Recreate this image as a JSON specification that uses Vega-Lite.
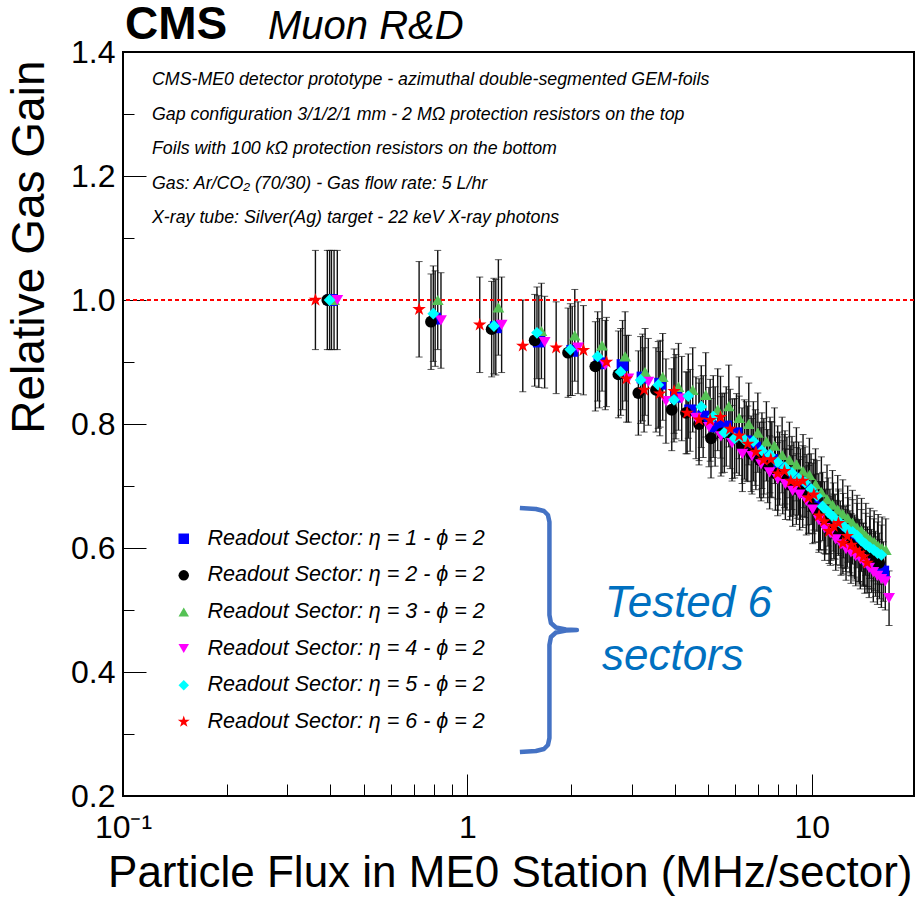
{
  "$schema": "https://vega.github.io/schema/vega-lite/v6.json",
  "width": 791,
  "height": 744,
  "autosize": {"type": "none"},
  "padding": {"left": 123, "top": 52, "right": 2, "bottom": 102},
  "background": "white",
  "config": {"font": "Liberation Sans", "view": {"stroke": "#000", "strokeWidth": 2}},
  "datasets": {
    "pts": [
      {"s":1,"x":0.403,"y":1.000,"e":0.080},{"s":1,"x":0.806,"y":0.970,"e":0.077},{"s":1,"x":1.209,"y":0.956,"e":0.077},{"s":1,"x":1.612,"y":0.933,"e":0.074},{"s":1,"x":2.015,"y":0.918,"e":0.072},
      {"s":1,"x":2.418,"y":0.898,"e":0.072},{"s":1,"x":2.821,"y":0.895,"e":0.072},{"s":1,"x":3.224,"y":0.875,"e":0.070},{"s":1,"x":3.627,"y":0.865,"e":0.070},{"s":1,"x":4.03,"y":0.844,"e":0.068},
      {"s":1,"x":4.433,"y":0.822,"e":0.066},{"s":1,"x":4.836,"y":0.812,"e":0.066},{"s":1,"x":5.239,"y":0.796,"e":0.064},{"s":1,"x":5.642,"y":0.796,"e":0.064},{"s":1,"x":6.045,"y":0.785,"e":0.064},
      {"s":1,"x":6.448,"y":0.772,"e":0.064},{"s":1,"x":6.851,"y":0.762,"e":0.061},{"s":1,"x":7.254,"y":0.748,"e":0.061},{"s":1,"x":7.657,"y":0.742,"e":0.061},{"s":1,"x":8.06,"y":0.728,"e":0.059},
      {"s":1,"x":8.463,"y":0.720,"e":0.059},{"s":1,"x":8.866,"y":0.712,"e":0.059},{"s":1,"x":9.269,"y":0.703,"e":0.057},{"s":1,"x":9.672,"y":0.694,"e":0.057},{"s":1,"x":10.075,"y":0.680,"e":0.057},
      {"s":1,"x":10.478,"y":0.665,"e":0.055},{"s":1,"x":10.881,"y":0.652,"e":0.055},{"s":1,"x":11.284,"y":0.643,"e":0.052},{"s":1,"x":11.687,"y":0.634,"e":0.052},{"s":1,"x":12.09,"y":0.624,"e":0.052},
      {"s":1,"x":12.493,"y":0.617,"e":0.050},{"s":1,"x":12.896,"y":0.610,"e":0.050},{"s":1,"x":13.299,"y":0.603,"e":0.050},{"s":1,"x":13.702,"y":0.596,"e":0.050},{"s":1,"x":14.105,"y":0.590,"e":0.050},
      {"s":1,"x":14.508,"y":0.582,"e":0.048},{"s":1,"x":14.911,"y":0.576,"e":0.048},{"s":1,"x":15.314,"y":0.570,"e":0.048},{"s":1,"x":15.717,"y":0.566,"e":0.048},{"s":1,"x":16.12,"y":0.562,"e":0.048},

      {"s":2,"x":0.392,"y":1.000,"e":0.080},{"s":2,"x":0.784,"y":0.965,"e":0.077},{"s":2,"x":1.176,"y":0.953,"e":0.077},{"s":2,"x":1.568,"y":0.935,"e":0.074},{"s":2,"x":1.96,"y":0.915,"e":0.072},
      {"s":2,"x":2.352,"y":0.893,"e":0.072},{"s":2,"x":2.744,"y":0.880,"e":0.070},{"s":2,"x":3.136,"y":0.850,"e":0.068},{"s":2,"x":3.528,"y":0.855,"e":0.068},{"s":2,"x":3.92,"y":0.823,"e":0.066},
      {"s":2,"x":4.312,"y":0.818,"e":0.066},{"s":2,"x":4.704,"y":0.800,"e":0.066},{"s":2,"x":5.096,"y":0.777,"e":0.064},{"s":2,"x":5.488,"y":0.785,"e":0.064},{"s":2,"x":5.88,"y":0.776,"e":0.064},
      {"s":2,"x":6.272,"y":0.765,"e":0.061},{"s":2,"x":6.664,"y":0.752,"e":0.061},{"s":2,"x":7.056,"y":0.742,"e":0.061},{"s":2,"x":7.448,"y":0.732,"e":0.059},{"s":2,"x":7.84,"y":0.720,"e":0.059},
      {"s":2,"x":8.232,"y":0.714,"e":0.059},{"s":2,"x":8.624,"y":0.702,"e":0.057},{"s":2,"x":9.016,"y":0.695,"e":0.057},{"s":2,"x":9.408,"y":0.690,"e":0.057},{"s":2,"x":9.8,"y":0.678,"e":0.055},
      {"s":2,"x":10.192,"y":0.664,"e":0.055},{"s":2,"x":10.584,"y":0.652,"e":0.055},{"s":2,"x":10.976,"y":0.642,"e":0.052},{"s":2,"x":11.368,"y":0.632,"e":0.052},{"s":2,"x":11.76,"y":0.625,"e":0.052},
      {"s":2,"x":12.152,"y":0.618,"e":0.050},{"s":2,"x":12.544,"y":0.612,"e":0.050},{"s":2,"x":12.936,"y":0.606,"e":0.050},{"s":2,"x":13.328,"y":0.600,"e":0.050},{"s":2,"x":13.72,"y":0.595,"e":0.050},
      {"s":2,"x":14.112,"y":0.590,"e":0.050},{"s":2,"x":14.504,"y":0.586,"e":0.048},{"s":2,"x":14.896,"y":0.582,"e":0.048},{"s":2,"x":15.288,"y":0.579,"e":0.048},{"s":2,"x":15.68,"y":0.576,"e":0.048},

      {"s":3,"x":0.41,"y":1.000,"e":0.080},{"s":3,"x":0.82,"y":1.000,"e":0.080},{"s":3,"x":1.23,"y":0.988,"e":0.077},{"s":3,"x":1.64,"y":0.950,"e":0.077},{"s":3,"x":2.05,"y":0.943,"e":0.074},
      {"s":3,"x":2.46,"y":0.927,"e":0.074},{"s":3,"x":2.87,"y":0.909,"e":0.072},{"s":3,"x":3.28,"y":0.884,"e":0.070},{"s":3,"x":3.69,"y":0.876,"e":0.070},{"s":3,"x":4.1,"y":0.860,"e":0.070},
      {"s":3,"x":4.51,"y":0.855,"e":0.068},{"s":3,"x":4.92,"y":0.847,"e":0.068},{"s":3,"x":5.33,"y":0.823,"e":0.066},{"s":3,"x":5.74,"y":0.829,"e":0.066},{"s":3,"x":6.15,"y":0.810,"e":0.066},
      {"s":3,"x":6.56,"y":0.800,"e":0.066},{"s":3,"x":6.97,"y":0.786,"e":0.064},{"s":3,"x":7.38,"y":0.772,"e":0.064},{"s":3,"x":7.79,"y":0.765,"e":0.061},{"s":3,"x":8.2,"y":0.750,"e":0.061},
      {"s":3,"x":8.61,"y":0.742,"e":0.061},{"s":3,"x":9.02,"y":0.735,"e":0.059},{"s":3,"x":9.43,"y":0.724,"e":0.059},{"s":3,"x":9.84,"y":0.718,"e":0.059},{"s":3,"x":10.25,"y":0.703,"e":0.057},
      {"s":3,"x":10.66,"y":0.690,"e":0.057},{"s":3,"x":11.07,"y":0.679,"e":0.055},{"s":3,"x":11.48,"y":0.670,"e":0.055},{"s":3,"x":11.89,"y":0.662,"e":0.055},{"s":3,"x":12.3,"y":0.655,"e":0.055},
      {"s":3,"x":12.71,"y":0.648,"e":0.052},{"s":3,"x":13.12,"y":0.641,"e":0.052},{"s":3,"x":13.53,"y":0.633,"e":0.052},{"s":3,"x":13.94,"y":0.628,"e":0.052},{"s":3,"x":14.35,"y":0.620,"e":0.052},
      {"s":3,"x":14.76,"y":0.614,"e":0.050},{"s":3,"x":15.17,"y":0.610,"e":0.050},{"s":3,"x":15.58,"y":0.604,"e":0.050},{"s":3,"x":15.99,"y":0.600,"e":0.050},{"s":3,"x":16.4,"y":0.597,"e":0.050},

      {"s":4,"x":0.419,"y":1.000,"e":0.080},{"s":4,"x":0.838,"y":0.967,"e":0.077},{"s":4,"x":1.257,"y":0.960,"e":0.077},{"s":4,"x":1.676,"y":0.932,"e":0.074},{"s":4,"x":2.095,"y":0.923,"e":0.074},
      {"s":4,"x":2.514,"y":0.895,"e":0.072},{"s":4,"x":2.933,"y":0.873,"e":0.070},{"s":4,"x":3.352,"y":0.868,"e":0.070},{"s":4,"x":3.771,"y":0.837,"e":0.068},{"s":4,"x":4.19,"y":0.841,"e":0.068},
      {"s":4,"x":4.609,"y":0.810,"e":0.066},{"s":4,"x":5.028,"y":0.795,"e":0.064},{"s":4,"x":5.447,"y":0.780,"e":0.064},{"s":4,"x":5.866,"y":0.769,"e":0.061},{"s":4,"x":6.285,"y":0.752,"e":0.061},
      {"s":4,"x":6.704,"y":0.748,"e":0.061},{"s":4,"x":7.123,"y":0.735,"e":0.059},{"s":4,"x":7.542,"y":0.722,"e":0.059},{"s":4,"x":7.961,"y":0.711,"e":0.059},{"s":4,"x":8.38,"y":0.703,"e":0.057},
      {"s":4,"x":8.799,"y":0.692,"e":0.057},{"s":4,"x":9.218,"y":0.686,"e":0.057},{"s":4,"x":9.637,"y":0.676,"e":0.055},{"s":4,"x":10.056,"y":0.662,"e":0.055},{"s":4,"x":10.475,"y":0.645,"e":0.052},
      {"s":4,"x":10.894,"y":0.632,"e":0.052},{"s":4,"x":11.313,"y":0.624,"e":0.052},{"s":4,"x":11.732,"y":0.614,"e":0.050},{"s":4,"x":12.151,"y":0.606,"e":0.050},{"s":4,"x":12.57,"y":0.598,"e":0.050},
      {"s":4,"x":12.989,"y":0.593,"e":0.050},{"s":4,"x":13.408,"y":0.587,"e":0.048},{"s":4,"x":13.827,"y":0.582,"e":0.048},{"s":4,"x":14.246,"y":0.575,"e":0.048},{"s":4,"x":14.665,"y":0.568,"e":0.048},
      {"s":4,"x":15.084,"y":0.561,"e":0.048},{"s":4,"x":15.503,"y":0.555,"e":0.046},{"s":4,"x":15.922,"y":0.550,"e":0.046},{"s":4,"x":16.341,"y":0.546,"e":0.046},{"s":4,"x":16.76,"y":0.519,"e":0.044},

      {"s":5,"x":0.398,"y":1.000,"e":0.080},{"s":5,"x":0.796,"y":0.978,"e":0.077},{"s":5,"x":1.194,"y":0.958,"e":0.077},{"s":5,"x":1.592,"y":0.947,"e":0.074},{"s":5,"x":1.99,"y":0.920,"e":0.074},
      {"s":5,"x":2.388,"y":0.909,"e":0.072},{"s":5,"x":2.786,"y":0.884,"e":0.070},{"s":5,"x":3.184,"y":0.871,"e":0.070},{"s":5,"x":3.582,"y":0.863,"e":0.070},{"s":5,"x":3.98,"y":0.839,"e":0.068},
      {"s":5,"x":4.378,"y":0.845,"e":0.068},{"s":5,"x":4.776,"y":0.828,"e":0.066},{"s":5,"x":5.174,"y":0.812,"e":0.066},{"s":5,"x":5.572,"y":0.786,"e":0.064},{"s":5,"x":5.97,"y":0.777,"e":0.064},
      {"s":5,"x":6.368,"y":0.775,"e":0.064},{"s":5,"x":6.766,"y":0.772,"e":0.064},{"s":5,"x":7.164,"y":0.757,"e":0.061},{"s":5,"x":7.562,"y":0.750,"e":0.061},{"s":5,"x":7.96,"y":0.738,"e":0.059},
      {"s":5,"x":8.358,"y":0.730,"e":0.059},{"s":5,"x":8.756,"y":0.721,"e":0.059},{"s":5,"x":9.154,"y":0.712,"e":0.059},{"s":5,"x":9.552,"y":0.706,"e":0.057},{"s":5,"x":9.95,"y":0.695,"e":0.057},
      {"s":5,"x":10.348,"y":0.684,"e":0.057},{"s":5,"x":10.746,"y":0.667,"e":0.055},{"s":5,"x":11.144,"y":0.658,"e":0.055},{"s":5,"x":11.542,"y":0.650,"e":0.055},{"s":5,"x":11.94,"y":0.643,"e":0.052},
      {"s":5,"x":12.338,"y":0.636,"e":0.052},{"s":5,"x":12.736,"y":0.629,"e":0.052},{"s":5,"x":13.134,"y":0.626,"e":0.052},{"s":5,"x":13.532,"y":0.620,"e":0.052},{"s":5,"x":13.93,"y":0.612,"e":0.050},
      {"s":5,"x":14.328,"y":0.606,"e":0.050},{"s":5,"x":14.726,"y":0.601,"e":0.050},{"s":5,"x":15.124,"y":0.597,"e":0.050},{"s":5,"x":15.522,"y":0.592,"e":0.050},{"s":5,"x":15.92,"y":0.589,"e":0.048},

      {"s":6,"x":0.362,"y":1.000,"e":0.080},{"s":6,"x":0.724,"y":0.985,"e":0.077},{"s":6,"x":1.086,"y":0.960,"e":0.077},{"s":6,"x":1.448,"y":0.926,"e":0.074},{"s":6,"x":1.81,"y":0.923,"e":0.074},
      {"s":6,"x":2.172,"y":0.919,"e":0.072},{"s":6,"x":2.534,"y":0.900,"e":0.072},{"s":6,"x":2.896,"y":0.873,"e":0.070},{"s":6,"x":3.258,"y":0.855,"e":0.068},{"s":6,"x":3.62,"y":0.849,"e":0.068},
      {"s":6,"x":3.982,"y":0.853,"e":0.068},{"s":6,"x":4.344,"y":0.818,"e":0.066},{"s":6,"x":4.706,"y":0.807,"e":0.066},{"s":6,"x":5.068,"y":0.806,"e":0.066},{"s":6,"x":5.43,"y":0.811,"e":0.066},
      {"s":6,"x":5.792,"y":0.792,"e":0.064},{"s":6,"x":6.154,"y":0.781,"e":0.064},{"s":6,"x":6.516,"y":0.768,"e":0.061},{"s":6,"x":6.878,"y":0.755,"e":0.061},{"s":6,"x":7.24,"y":0.742,"e":0.061},
      {"s":6,"x":7.602,"y":0.743,"e":0.061},{"s":6,"x":7.964,"y":0.720,"e":0.059},{"s":6,"x":8.326,"y":0.724,"e":0.059},{"s":6,"x":8.688,"y":0.708,"e":0.057},{"s":6,"x":9.05,"y":0.705,"e":0.057},
      {"s":6,"x":9.412,"y":0.708,"e":0.057},{"s":6,"x":9.774,"y":0.681,"e":0.057},{"s":6,"x":10.136,"y":0.686,"e":0.057},{"s":6,"x":10.498,"y":0.652,"e":0.055},{"s":6,"x":10.86,"y":0.643,"e":0.052},
      {"s":6,"x":11.222,"y":0.627,"e":0.052},{"s":6,"x":11.584,"y":0.635,"e":0.052},{"s":6,"x":11.946,"y":0.640,"e":0.052},{"s":6,"x":12.308,"y":0.608,"e":0.050},{"s":6,"x":12.67,"y":0.619,"e":0.050},
      {"s":6,"x":13.032,"y":0.605,"e":0.050},{"s":6,"x":13.394,"y":0.597,"e":0.050},{"s":6,"x":13.756,"y":0.592,"e":0.050},{"s":6,"x":14.118,"y":0.586,"e":0.048},{"s":6,"x":14.48,"y":0.576,"e":0.048}
    ],
    "notes": [
      {"x":0.1214,"y":1.3468,"t":"CMS-ME0 detector prototype - azimuthal double-segmented GEM-foils"},
      {"x":0.1214,"y":1.2911,"t":"Gap configuration 3/1/2/1 mm - 2 MΩ protection resistors on the top"},
      {"x":0.1214,"y":1.2355,"t":"Foils with 100 kΩ protection resistors on the bottom"},
      {"x":0.1214,"y":1.1798,"t":"Gas: Ar/CO₂ (70/30) - Gas flow rate: 5 L/hr"},
      {"x":0.1214,"y":1.1242,"t":"X-ray tube: Silver(Ag) target - 22 keV X-ray photons"}
    ],
    "brace": [
      {"o":1,"x":1.4202,"y":0.6645},{"o":2,"x":1.5803,"y":0.6629},{"o":3,"x":1.6679,"y":0.6597},{"o":4,"x":1.7131,"y":0.6532},
      {"o":5,"x":1.7304,"y":0.6419},{"o":6,"x":1.7304,"y":0.4919},{"o":7,"x":1.7478,"y":0.4790},{"o":8,"x":1.8072,"y":0.4718},
      {"o":9,"x":1.9319,"y":0.4685},{"o":10,"x":2.0789,"y":0.4677},{"o":11,"x":1.9319,"y":0.4669},{"o":12,"x":1.8072,"y":0.4637},
      {"o":13,"x":1.7478,"y":0.4565},{"o":14,"x":1.7304,"y":0.4435},{"o":15,"x":1.7304,"y":0.2935},{"o":16,"x":1.7131,"y":0.2823},
      {"o":17,"x":1.6679,"y":0.2758},{"o":18,"x":1.5803,"y":0.2726},{"o":19,"x":1.4202,"y":0.2710}
    ]
  },
  "layer": [
    {
      "data": {"name": "pts"},
      "mark": {"type": "point", "filled": true, "opacity": 0, "size": 1},
      "encoding": {
        "x": {
          "field": "x", "type": "quantitative",
          "scale": {"type": "log", "domain": [0.1, 19.8], "nice": false},
          "axis": {
            "values": [0.1, 0.2, 0.3, 0.4, 0.5, 0.6, 0.7, 0.8, 0.9, 1, 2, 3, 4, 5, 6, 7, 8, 9, 10],
            "labelExpr": "datum.value == 0.1 ? '10⁻¹' : datum.value == 1 ? '1' : datum.value == 10 ? '10' : ''",
            "tickSize": {"condition": {"test": "datum.value == 0.1 || datum.value == 1 || datum.value == 10", "value": -22}, "value": -12},
            "tickColor": "#000", "tickWidth": 1, "domain": false, "grid": false,
            "labelFontSize": 32, "labelColor": "#000", "labelPadding": 38, "labelFlush": false, "labelOverlap": false,
            "title": "Particle Flux in ME0 Station (MHz/sector)", "titleFontSize": 44, "titleFontWeight": "normal", "titleColor": "#000",
            "titleAlign": "right", "titleBaseline": "alphabetic", "titleX": 789, "titleY": 90
          }
        },
        "y": {
          "field": "y", "type": "quantitative",
          "scale": {"domain": [0.2, 1.4], "nice": false, "zero": false},
          "axis": {
            "values": [0.2, 0.25, 0.3, 0.35, 0.4, 0.45, 0.5, 0.55, 0.6, 0.65, 0.7, 0.75, 0.8, 0.85, 0.9, 0.95, 1, 1.05, 1.1, 1.15, 1.2, 1.25, 1.3, 1.35, 1.4],
            "labelExpr": "indexof([0.2, 0.4, 0.6, 0.8, 1, 1.2, 1.4], datum.value) >= 0 ? format(datum.value, '.1f') : ''",
            "tickSize": {"condition": {"test": "indexof([0.2, 0.4, 0.6, 0.8, 1, 1.2, 1.4], datum.value) >= 0", "value": -23}, "value": -11},
            "tickColor": "#000", "tickWidth": 1, "domain": false, "grid": false,
            "labelFontSize": 32, "labelColor": "#000", "labelPadding": 31, "labelFlush": false, "labelOverlap": false,
            "title": "Relative Gas Gain", "titleFontSize": 46, "titleFontWeight": "normal", "titleColor": "#000",
            "titleAngle": -90, "titleAlign": "right", "titleBaseline": "alphabetic", "titleX": -80, "titleY": 8
          }
        }
      }
    },
    {
      "data": {"name": "pts"},
      "mark": {"type": "errorbar", "color": "#111", "ticks": {"size": 7, "thickness": 1}, "rule": {"strokeWidth": 1.4}},
      "encoding": {
        "x": {"field": "x", "type": "quantitative", "title": "Particle Flux in ME0 Station (MHz/sector)"},
        "y": {"field": "y", "type": "quantitative", "title": "Relative Gas Gain"},
        "yError": {"field": "e"}
      }
    },
    {
      "data": {"values": [{}]},
      "mark": {"type": "rule", "color": "#ff0000", "strokeWidth": 2, "strokeDash": [4, 3]},
      "encoding": {"y": {"datum": 1, "type": "quantitative", "title": "Relative Gas Gain"}}
    },
    {
      "data": {"name": "pts"},
      "mark": {"type": "point", "filled": true, "opacity": 1, "size": 140},
      "encoding": {
        "x": {"field": "x", "type": "quantitative", "title": "Particle Flux in ME0 Station (MHz/sector)"},
        "y": {"field": "y", "type": "quantitative", "title": "Relative Gas Gain"},
        "color": {
          "field": "s", "type": "nominal",
          "scale": {"domain": [1, 2, 3, 4, 5, 6], "range": ["#0000ff", "#000000", "#55c255", "#ff00ff", "#00ffff", "#ff0000"]},
          "legend": {"title": null, "orient": "none", "legendX": 50, "legendY": 476, "padding": 0, "labelFontSize": 21.5, "labelFontStyle": "italic", "labelColor": "#000", "labelLimit": 400, "symbolSize": 110, "rowPadding": 13.6, "labelOffset": 13,
            "labelExpr": "'Readout Sector: η = ' + datum.label + ' - ϕ = 2'"}
        },
        "shape": {
          "field": "s", "type": "nominal",
          "scale": {"domain": [1, 2, 3, 4, 5, 6], "range": ["square", "circle", "triangle-up", "triangle-down", "diamond", "M0,-1.2L0.27,-0.37L1.14,-0.37L0.44,0.14L0.71,0.97L0,0.46L-0.71,0.97L-0.44,0.14L-1.14,-0.37L-0.27,-0.37Z"]},
          "legend": {"title": null, "orient": "none", "legendX": 50, "legendY": 476, "padding": 0, "labelFontSize": 21.5, "labelFontStyle": "italic", "labelColor": "#000", "labelLimit": 400, "symbolSize": 110, "rowPadding": 13.6, "labelOffset": 13,
            "labelExpr": "'Readout Sector: η = ' + datum.label + ' - ϕ = 2'"}
        }
      }
    },
    {
      "data": {"name": "notes"},
      "mark": {"type": "text", "align": "left", "baseline": "alphabetic", "fontSize": 17.8, "fontStyle": "italic", "color": "#000"},
      "encoding": {
        "x": {"field": "x", "type": "quantitative", "title": "Particle Flux in ME0 Station (MHz/sector)"},
        "y": {"field": "y", "type": "quantitative", "title": "Relative Gas Gain"},
        "text": {"field": "t"}
      }
    },
    {
      "data": {"values": [{"x": 0.1013, "y": 1.421, "t": "CMS"}]},
      "mark": {"type": "text", "align": "left", "baseline": "alphabetic", "fontSize": 46, "fontWeight": "bold", "color": "#000"},
      "encoding": {
        "x": {"field": "x", "type": "quantitative", "title": "Particle Flux in ME0 Station (MHz/sector)"},
        "y": {"field": "y", "type": "quantitative", "title": "Relative Gas Gain"},
        "text": {"field": "t"}
      }
    },
    {
      "data": {"values": [{"x": 0.2636, "y": 1.421, "t": "Muon R&D"}]},
      "mark": {"type": "text", "align": "left", "baseline": "alphabetic", "fontSize": 40, "fontStyle": "italic", "color": "#000"},
      "encoding": {
        "x": {"field": "x", "type": "quantitative", "title": "Particle Flux in ME0 Station (MHz/sector)"},
        "y": {"field": "y", "type": "quantitative", "title": "Relative Gas Gain"},
        "text": {"field": "t"}
      }
    },
    {
      "data": {"values": [{"x": 2.506, "y": 0.4887, "t": "Tested 6"}, {"x": 2.458, "y": 0.4032, "t": "sectors"}]},
      "mark": {"type": "text", "align": "left", "baseline": "alphabetic", "fontSize": 44, "fontStyle": "italic", "color": "#0070c0"},
      "encoding": {
        "x": {"field": "x", "type": "quantitative", "title": "Particle Flux in ME0 Station (MHz/sector)"},
        "y": {"field": "y", "type": "quantitative", "title": "Relative Gas Gain"},
        "text": {"field": "t"}
      }
    },
    {
      "data": {"name": "brace"},
      "mark": {"type": "line", "color": "#4472c4", "strokeWidth": 4.5, "strokeJoin": "round"},
      "encoding": {
        "x": {"field": "x", "type": "quantitative", "title": "Particle Flux in ME0 Station (MHz/sector)"},
        "y": {"field": "y", "type": "quantitative", "title": "Relative Gas Gain"},
        "order": {"field": "o", "type": "quantitative"}
      }
    }
  ]
}
